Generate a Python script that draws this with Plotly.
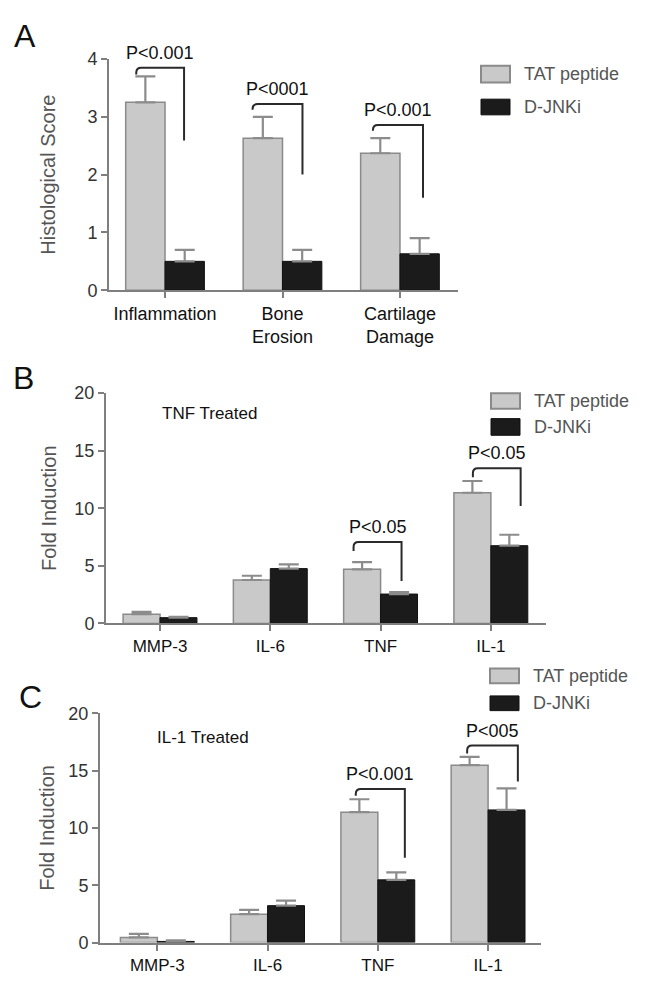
import plotly.graph_objects as go

# ---------------- data ----------------
cats_A = ["Inflammation", "Bone<br>Erosion", "Cartilage<br>Damage"]
tat_A = [3.25, 2.63, 2.37]
tat_A_err = [0.45, 0.37, 0.26]
jnk_A = [0.50, 0.50, 0.63]
jnk_A_err = [0.20, 0.20, 0.27]

cats_BC = ["MMP-3", "IL-6", "TNF", "IL-1"]
tat_B = [0.80, 3.77, 4.70, 11.35]
tat_B_err = [0.20, 0.37, 0.63, 1.02]
jnk_B = [0.50, 4.76, 2.55, 6.75]
jnk_B_err = [0.08, 0.37, 0.17, 0.95]

tat_C = [0.45, 2.48, 11.37, 15.47]
tat_C_err = [0.30, 0.37, 1.13, 0.73]
jnk_C = [0.10, 3.22, 5.47, 11.57]
jnk_C_err = [0.10, 0.43, 0.66, 1.88]

series_names = ["TAT peptide", "D-JNKi"]
panel_letters = ["A", "B", "C"]
treat_labels = ["TNF Treated", "IL-1 Treated"]
y_titles = ["Histological Score", "Fold Induction", "Fold Induction"]

# significance brackets: (panel, category, left offset, right offset, top, left end, right end, label)
brackets = [
    (1, 0, -0.245, 0.162, 3.85, 3.73, 2.59, "P<0.001"),
    (1, 1, -0.255, 0.170, 3.22, 3.12, 2.00, "P<0001"),
    (1, 2, -0.230, 0.196, 2.86, 2.76, 1.60, "P<0.001"),
    (2, 2, -0.245, 0.190, 7.08, 6.30, 3.68, "P<0.05"),
    (2, 3, -0.163, 0.270, 13.48, 12.70, 10.20, "P<0.05"),
    (3, 2, -0.200, 0.245, 13.40, 12.80, 7.40, "P<0.001"),
    (3, 3, -0.190, 0.270, 17.18, 16.50, 14.05, "P<005"),
]

# ---------------- styling ----------------
W, H = 649, 995
TAT_FILL = "#c9c9c9"
TAT_LINE = "#8a8a8a"
JNK_FILL = "#1b1b1b"
AXIS_COL = "#7f7f7f"
FONT = "Liberation Sans, Arial, sans-serif"


def px(x):
    return x / W


def py(y):
    return 1 - y / H


panels = [
    dict(cats=cats_A, tat=tat_A, tate=tat_A_err, jnk=jnk_A, jnke=jnk_A_err,
         xdom=[px(109), px(458)], ydom=[py(286), py(50)], yr=[0, 4], dt=1,
         xr=[-0.477, 2.494], ppu=59.0, cpx=117.5, tstand=26, catsize=18),
    dict(cats=cats_BC, tat=tat_B, tate=tat_B_err, jnk=jnk_B, jnke=jnk_B_err,
         xdom=[px(106), px(546)], ydom=[py(626), py(391)], yr=[0, 20], dt=5,
         xr=[-0.49, 3.5], ppu=11.75, cpx=110.3, tstand=12, catsize=17),
    dict(cats=cats_BC, tat=tat_C, tate=tat_C_err, jnk=jnk_C, jnke=jnk_C_err,
         xdom=[px(100), px(541)], ydom=[py(951.7), py(717.7)], yr=[0, 20], dt=5,
         xr=[-0.52, 3.48], ppu=11.7, cpx=110.3, tstand=8, catsize=17),
]

fig = go.Figure()
shapes = []
annotations = []

for i, p in enumerate(panels, start=1):
    sfx = "" if i == 1 else str(i)
    xs = list(range(len(p["cats"])))
    fig.add_trace(go.Bar(
        x=xs, y=p["tat"], name=series_names[0], showlegend=False,
        xaxis="x" + sfx, yaxis="y" + sfx,
        marker=dict(color=TAT_FILL, line=dict(color=TAT_LINE, width=1.5)),
        error_y=dict(type="data", symmetric=False, array=p["tate"],
                     arrayminus=[0] * len(xs), color="#8c8c8c", thickness=2.2, width=10),
    ))
    fig.add_trace(go.Bar(
        x=xs, y=p["jnk"], name=series_names[1], showlegend=False,
        xaxis="x" + sfx, yaxis="y" + sfx,
        marker=dict(color=JNK_FILL, line=dict(color="#111111", width=1)),
        error_y=dict(type="data", symmetric=False, array=p["jnke"],
                     arrayminus=[0] * len(xs), color="#8c8c8c", thickness=2.2, width=10),
    ))
    fig.update_layout(**{
        "xaxis" + sfx: dict(
            domain=p["xdom"], anchor="y" + sfx, range=p["xr"],
            tickmode="array", tickvals=xs, ticktext=p["cats"],
            showline=True, linecolor=AXIS_COL, linewidth=2,
            ticks="outside", ticklen=6, tickwidth=2, tickcolor=AXIS_COL,
            showgrid=False, zeroline=False,
            tickfont=dict(family=FONT, size=p["catsize"], color="#111111"),
            fixedrange=True,
        ),
        "yaxis" + sfx: dict(
            domain=p["ydom"], anchor="x" + sfx, range=p["yr"], dtick=p["dt"],
            showline=True, linecolor=AXIS_COL, linewidth=2,
            ticks="outside", ticklen=6, tickwidth=2, tickcolor=AXIS_COL,
            showgrid=False, zeroline=False,
            tickfont=dict(family=FONT, size=18, color="#333333"),
            title=dict(text=y_titles[i - 1], font=dict(family=FONT, size=20, color="#555555"),
                       standoff=p["tstand"]),
            fixedrange=True,
        ),
    })

# brackets
for (pi, ci, xl, xr_, yt, yl, yb, lab) in brackets:
    p = panels[pi - 1]
    sfx = "" if pi == 1 else str(pi)
    x_l = ci + xl
    x_r = ci + xr_
    ry = 5 / p["ppu"]
    rx = 5 / p["cpx"]
    path = (f"M {x_l},{yl} L {x_l},{yt - ry} Q {x_l},{yt} {x_l + rx},{yt} "
            f"L {x_r},{yt} L {x_r},{yb}")
    shapes.append(dict(type="path", path=path, xref="x" + sfx, yref="y" + sfx,
                       line=dict(color="#2a2a2a", width=2)))
    annotations.append(dict(text=lab, x=(x_l + x_r) / 2, y=yt, xref="x" + sfx, yref="y" + sfx,
                            yshift=15, showarrow=False, xanchor="center", yanchor="middle",
                            font=dict(family=FONT, size=18, color="#111111")))

# manual legends: (box left, box right, row1 top, row1 bottom, row2 top, row2 bottom, text x)
legend_boxes = [
    (481, 510, 57, 74, 91, 107, 522),
    (491, 520, 391, 407, 417, 434, 532),
    (490, 519, 672, 687, 700, 715, 531),
]
for (x0, x1, t0, b0, t1, b1, tx) in legend_boxes:
    shapes.append(dict(type="rect", xref="paper", yref="paper",
                       x0=px(x0), x1=px(x1), y0=py(b0), y1=py(t0),
                       fillcolor=TAT_FILL, line=dict(color=TAT_LINE, width=2)))
    shapes.append(dict(type="rect", xref="paper", yref="paper",
                       x0=px(x0), x1=px(x1), y0=py(b1), y1=py(t1),
                       fillcolor=JNK_FILL, line=dict(color="#111111", width=1)))
    for name, (tt, bb) in zip(series_names, [(t0, b0), (t1, b1)]):
        annotations.append(dict(text=name, x=px(tx), y=py((tt + bb) / 2),
                                xref="paper", yref="paper", showarrow=False,
                                xanchor="left", yanchor="middle",
                                font=dict(family=FONT, size=18, color="#555555")))

# panel letters
for letter, (lx, ly) in zip(panel_letters, [(25, 27), (23, 376), (30, 701)]):
    annotations.append(dict(text=letter, x=px(lx), y=py(ly), xref="paper", yref="paper",
                            showarrow=False, xanchor="center", yanchor="middle",
                            font=dict(family=FONT, size=32, color="#111111")))

# treatment labels
for lab, (lx, ly) in zip(treat_labels, [(160, 412), (155, 742)]):
    annotations.append(dict(text=lab, x=px(lx), y=py(ly), xref="paper", yref="paper",
                            showarrow=False, xanchor="left", yanchor="middle",
                            font=dict(family=FONT, size=17, color="#111111")))

fig.update_layout(
    width=W, height=H,
    margin=dict(l=0, r=0, t=0, b=0),
    paper_bgcolor="white", plot_bgcolor="white",
    barmode="group", bargap=0.33, bargroupgap=0,
    showlegend=False,
    shapes=shapes, annotations=annotations,
    font=dict(family=FONT),
)

fig.write_html("out.html", config={"displayModeBar": False, "staticPlot": True},
               post_script="document.body.style.margin='0px';")
